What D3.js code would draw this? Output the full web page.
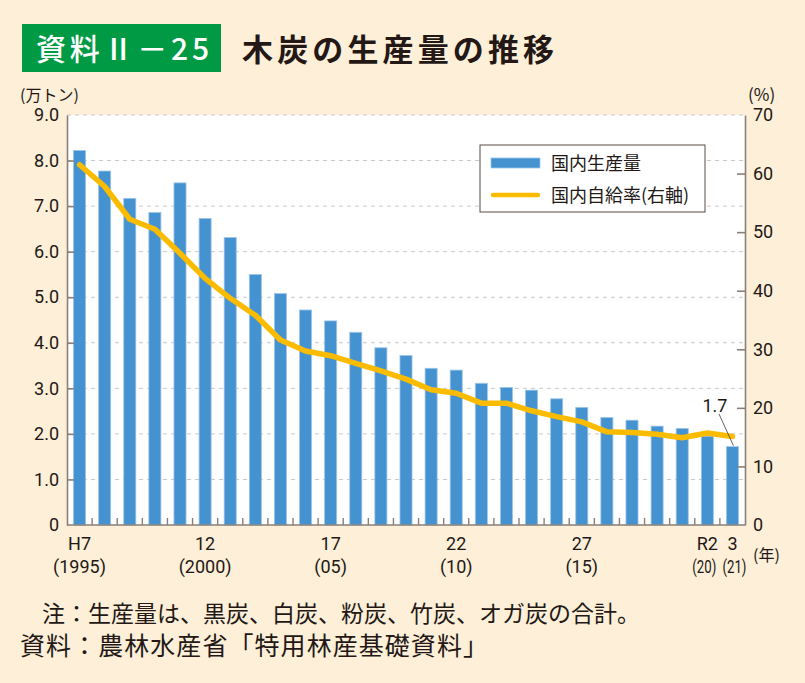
<!DOCTYPE html>
<html>
<head>
<meta charset="utf-8">
<script src="https://cdn.jsdelivr.net/npm/d3@7"></script>
<style>
  html, body { margin: 0; padding: 0; background: #fdefd8; }
  svg { display: block; }
</style>
</head>
<body>
<svg id="chart" width="805" height="683"></svg>
<script>
// ---- data ----
const years = d3.range(1995, 2022);
const production = [8.22, 7.77, 7.17, 6.86, 7.51, 6.73, 6.31, 5.50, 5.08, 4.72, 4.48, 4.23, 3.89, 3.72, 3.44, 3.40, 3.11, 3.02, 2.96, 2.77, 2.58, 2.36, 2.30, 2.17, 2.12, 1.95, 1.72];
const selfRate = [61.5, 57.8, 52.2, 50.5, 46.4, 42.1, 38.7, 35.8, 31.6, 29.7, 28.9, 27.6, 26.3, 24.9, 23.1, 22.5, 20.8, 20.8, 19.5, 18.5, 17.6, 15.9, 15.8, 15.5, 14.9, 15.7, 15.1];
const xTickYears = [1995, 2000, 2005, 2010, 2015, 2020, 2021];
const xTickTop = ["H7", "12", "17", "22", "27", "R2", "3"];
const xTickBottom = ["(1995)", "(2000)", "(05)", "(10)", "(15)", "(20)", "(21)"];
const leftTicks = [0, 1, 2, 3, 4, 5, 6, 7, 8, 9];
const rightTicks = [0, 10, 20, 30, 40, 50, 60, 70];
const seriesNames = ["国内生産量", "国内自給率(右軸)"];
const titleBadge = "資料Ⅱ－25";
const titleText = "木炭の生産量の推移";
const notes = ["注：生産量は、黒炭、白炭、粉炭、竹炭、オガ炭の合計。", "資料：農林水産省「特用林産基礎資料」"];

// ---- layout ----
const L = 67, R = 745, T = 115, B = 525;
const barColor = "#4592d0", lineColor = "#fbbc00", axisColor = "#8a7f78", textColor = "#231815";
const numFont = "Roboto, 'Liberation Sans', sans-serif";
const jpFont = "'Noto Sans CJK JP', sans-serif";

const svg = d3.select("#chart");
svg.append("rect").attr("width", 805).attr("height", 683).attr("fill", "#fdefd8");

const x = d3.scaleBand().domain(years).range([L, R]).paddingInner(0.52).paddingOuter(0.26);
const yL = d3.scaleLinear().domain([0, 9]).range([B, T]);
const yR = d3.scaleLinear().domain([0, 70]).range([B, T]);

// plot background
svg.append("rect").attr("x", L).attr("y", T).attr("width", R - L).attr("height", B - T).attr("fill", "#ffffff");

// gridlines
svg.append("g").selectAll("line").data(leftTicks.filter(d => d > 0)).join("line")
  .attr("x1", L).attr("x2", R).attr("y1", d => yL(d)).attr("y2", d => yL(d))
  .attr("stroke", "#c8c8c8").attr("stroke-width", 1).attr("stroke-dasharray", "4,4");

// bars
svg.append("g").selectAll("rect").data(years).join("rect")
  .attr("x", d => x(d)).attr("width", x.bandwidth())
  .attr("y", (d, i) => yL(production[i])).attr("height", (d, i) => B - yL(production[i]))
  .attr("fill", barColor).attr("stroke", "#9cc5ea").attr("stroke-width", 0.8);

// line
const line = d3.line().x((d, i) => x(years[i]) + x.bandwidth() / 2).y(d => yR(d));
svg.append("path").datum(selfRate).attr("d", line)
  .attr("fill", "none").attr("stroke", lineColor).attr("stroke-width", 5.5)
  .attr("stroke-linejoin", "round").attr("stroke-linecap", "round");

// left axis
const gL = svg.append("g").attr("transform", `translate(${L},0)`)
  .call(d3.axisLeft(yL).tickValues(leftTicks).tickSizeInner(-7).tickSizeOuter(0).tickPadding(8)
    .tickFormat(d => d === 0 ? "0" : d3.format(".1f")(d)));
// right axis
const gR = svg.append("g").attr("transform", `translate(${R},0)`)
  .call(d3.axisRight(yR).tickValues(rightTicks).tickSizeInner(-8).tickSizeOuter(0).tickPadding(8));
[gL, gR].forEach(g => {
  g.select(".domain").attr("stroke", axisColor).attr("stroke-width", 1.6);
  g.selectAll(".tick line").attr("stroke", axisColor).attr("stroke-width", 1.6);
  g.selectAll(".tick text").attr("fill", textColor).style("font-family", numFont).style("font-size", "18px");
});
gL.selectAll(".tick").filter(d => d === 0 || d === 9).select("line").remove();
gR.selectAll(".tick").filter(d => d === 0 || d === 70).select("line").remove();

// bottom axis
const bounds = years.slice(1).map(d => x(d) - x.step() * x.paddingInner() / 2);
svg.append("line").attr("x1", L).attr("x2", R).attr("y1", B).attr("y2", B)
  .attr("stroke", axisColor).attr("stroke-width", 1.6);
svg.append("g").selectAll("line").data(bounds).join("line")
  .attr("x1", d => d).attr("x2", d => d).attr("y1", B).attr("y2", B - 7)
  .attr("stroke", axisColor).attr("stroke-width", 1.4);

// x labels
const xl = svg.append("g").style("font-family", numFont).style("font-size", "18px").attr("fill", textColor).attr("text-anchor", "middle");
xl.selectAll("text.top").data(xTickYears).join("text").attr("class", "top")
  .attr("x", d => x(d) + x.bandwidth() / 2).attr("y", 550).text((d, i) => xTickTop[i]);
xl.selectAll("text.bot").data(xTickYears).join("text").attr("class", "bot")
  .attr("x", d => x(d) + x.bandwidth() / 2 + (d === 2020 ? -3 : d === 2021 ? 2 : 0)).attr("y", 573)
  .text((d, i) => xTickBottom[i])
  .each(function (d) {
    if (d >= 2020) d3.select(this).attr("textLength", 24).attr("lengthAdjust", "spacingAndGlyphs");
  });

// axis unit labels
svg.append("text").attr("x", 20).attr("y", 101).attr("fill", textColor)
  .style("font-family", jpFont).style("font-size", "16px").text("(万トン)");
svg.append("text").attr("x", 748).attr("y", 101).attr("fill", textColor)
  .style("font-family", jpFont).style("font-size", "17px").text("(%)");
svg.append("text").attr("x", 753).attr("y", 561).attr("fill", textColor)
  .style("font-family", jpFont).style("font-size", "16px").text("(年)");

// legend
const lg = svg.append("g");
lg.append("rect").attr("x", 480).attr("y", 145).attr("width", 225).attr("height", 67)
  .attr("fill", "#ffffff").attr("stroke", "#5a4a42").attr("stroke-width", 1);
lg.append("rect").attr("x", 491).attr("y", 158).attr("width", 49).attr("height", 10)
  .attr("fill", barColor).attr("stroke", "#9cc5ea").attr("stroke-width", 0.8);
lg.append("line").attr("x1", 493).attr("x2", 538).attr("y1", 195).attr("y2", 195)
  .attr("stroke", lineColor).attr("stroke-width", 4.5).attr("stroke-linecap", "round");
lg.selectAll("text").data(seriesNames).join("text")
  .attr("x", 551).attr("y", (d, i) => i === 0 ? 169.5 : 202)
  .attr("fill", textColor).style("font-family", jpFont).style("font-size", "18px").text(d => d);

// annotation for last value
const lastI = years.length - 1;
svg.append("text").attr("x", 715).attr("y", 412).attr("text-anchor", "middle")
  .attr("fill", textColor).style("font-family", numFont).style("font-size", "18px")
  .text(d3.format(".1f")(production[lastI]));
svg.append("line").attr("x1", 719).attr("y1", 414)
  .attr("x2", x(years[lastI]) + x.bandwidth() / 2 + 1).attr("y2", yL(production[lastI]) - 1)
  .attr("stroke", "#3a3a3a").attr("stroke-width", 0.8);

// title
svg.append("rect").attr("x", 22).attr("y", 24).attr("width", 199).attr("height", 48).attr("fill", "#009a44");
svg.append("text").attr("x", 36).attr("y", 60).attr("fill", "#ffffff")
  .attr("textLength", 173).attr("lengthAdjust", "spacing")
  .style("font-family", jpFont).style("font-size", "30px").style("font-weight", "500").text(titleBadge);
svg.append("text").attr("x", 242).attr("y", 61).attr("fill", textColor)
  .attr("textLength", 312).attr("lengthAdjust", "spacing")
  .style("font-family", jpFont).style("font-size", "31px").style("font-weight", "700").text(titleText);

// notes
svg.append("text").attr("x", 42).attr("y", 622).attr("fill", textColor)
  .attr("textLength", 598).attr("lengthAdjust", "spacing")
  .style("font-family", jpFont).style("font-size", "23px").text(notes[0]);
svg.append("text").attr("x", 20).attr("y", 655).attr("fill", textColor)
  .attr("textLength", 468).attr("lengthAdjust", "spacing")
  .style("font-family", jpFont).style("font-size", "25px").text(notes[1]);
</script>
</body>
</html>
